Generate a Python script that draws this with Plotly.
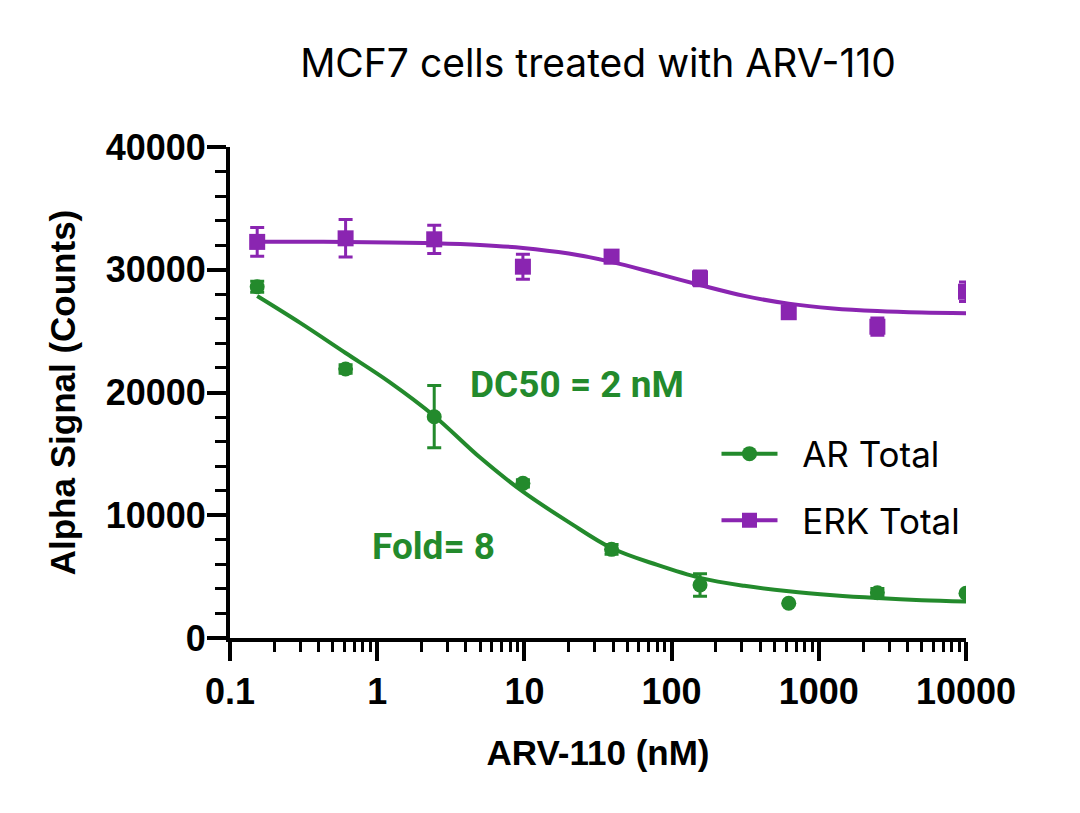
import plotly.graph_objects as go

# measured concentrations (nM), 4-fold dilution series
conc = [0.153, 0.61, 2.44, 9.77, 39.1, 156, 625, 2500, 10000]

ar_mean = [28620, 21920, 18030, 12600, 7220, 4320, 2830, 3690, 3640]
ar_err = [450, 350, 2540, 300, 400, 920, 0, 350, 0]

erk_mean = [32270, 32560, 32480, 30250, 31070, 29300, 26540, 25360, 28210]
erk_err = [1180, 1530, 1150, 1020, 500, 600, 450, 700, 800]

# fitted curves
fit_conc = [0.153, 0.3, 0.61, 1.2, 2.44, 5, 9.77, 20, 39, 80, 156, 312, 625, 1250, 2500, 5000, 10000]
ar_fit = [27860, 25670, 23220, 20890, 18090, 14700, 11920, 9440, 7330, 5950, 4900, 4250, 3800, 3480, 3250, 3080, 2980]
erk_fit = [32290, 32280, 32260, 32230, 32160, 32020, 31780, 31320, 30640, 29680, 28760, 27870, 27240, 26850, 26630, 26510, 26460]

x_ticks = [0.1, 1, 10, 100, 1000, 10000]
x_ticktext = ["0.1", "1", "10", "100", "1000", "10000"]

GREEN = "#238a2c"
PURPLE = "#8a25b1"

fig = go.Figure()

fig.add_trace(go.Scatter(x=fit_conc, y=ar_fit, mode="lines", line=dict(color=GREEN, width=4, shape="spline"),
                         showlegend=False, hoverinfo="skip"))
fig.add_trace(go.Scatter(x=fit_conc, y=erk_fit, mode="lines", line=dict(color=PURPLE, width=4, shape="spline"),
                         showlegend=False, hoverinfo="skip"))

fig.add_trace(go.Scatter(x=conc, y=ar_mean, mode="markers", name="AR Total",
                         marker=dict(color=GREEN, size=15, symbol="circle"),
                         error_y=dict(type="data", array=ar_err, color=GREEN, thickness=3, width=7),
                         showlegend=False))
fig.add_trace(go.Scatter(x=conc, y=erk_mean, mode="markers", name="ERK Total",
                         marker=dict(color=PURPLE, size=16, symbol="square"),
                         error_y=dict(type="data", array=erk_err, color=PURPLE, thickness=3, width=7),
                         showlegend=False))

# legend entries (line + symbol)
fig.add_trace(go.Scatter(x=[None], y=[None], mode="lines+markers", name="\u00a0\u00a0AR Total", legendgroup="ar",
                         line=dict(color=GREEN, width=4), marker=dict(color=GREEN, size=15, symbol="circle")))
fig.add_trace(go.Scatter(x=[None], y=[None], mode="lines+markers", name="\u00a0\u00a0ERK Total", legendgroup="erk",
                         line=dict(color=PURPLE, width=4), marker=dict(color=PURPLE, size=15, symbol="square")))

tick_font = dict(family="Liberation Sans", size=36, color="black", weight="bold")
title_font = dict(family="Liberation Sans", size=35, color="black", weight="bold")

fig.update_xaxes(type="log", range=[-1, 4], tickvals=x_ticks, ticktext=x_ticktext,
                 showline=True, linecolor="black", linewidth=4, showgrid=False, zeroline=False,
                 ticks="outside", ticklen=19, tickwidth=4, tickcolor="black",
                 minor=dict(ticks="outside", ticklen=10, tickwidth=3, tickcolor="black", dtick="D1", showgrid=False),
                 tickfont=tick_font, ticklabelstandoff=0,
                 title=dict(text="ARV-110 (nM)", font=title_font, standoff=30))
fig.update_yaxes(range=[0, 40000], dtick=10000, showline=True, linecolor="black", linewidth=4,
                 showgrid=False, zeroline=False, ticks="outside", ticklen=19, tickwidth=4, tickcolor="black",
                 minor=dict(ticks="outside", ticklen=11, tickwidth=3, tickcolor="black", dtick=2000, showgrid=False),
                 tickfont=tick_font, tickformat="d", ticklabelstandoff=-6,
                 title=dict(text="Alpha Signal (Counts)", font=title_font, standoff=20))

fig.add_annotation(text="DC50 = 2 nM", xref="paper", yref="paper", x=0.4715, y=0.517,
                   xanchor="center", yanchor="middle", showarrow=False,
                   font=dict(family="Roboto", size=37, color=GREEN, weight="bold"))
fig.add_annotation(text="Fold= 8", xref="paper", yref="paper", x=0.276, y=0.187,
                   xanchor="center", yanchor="middle", showarrow=False,
                   font=dict(family="Roboto", size=37, color=GREEN, weight="bold"))

fig.update_layout(
    width=1080, height=813,
    margin=dict(l=222, r=122, t=139, b=183),
    paper_bgcolor="white", plot_bgcolor="white",
    title=dict(text="MCF7 cells treated with ARV-110", x=0.5, xanchor="center", xref="paper",
               y=1 - 55 / 813, yref="container", yanchor="middle",
               font=dict(family="Inter", size=39, color="black")),
    legend=dict(x=0.661, y=0.435, xanchor="left", yanchor="top", font=dict(family="Inter", size=35, color="black"),
                bgcolor="rgba(0,0,0,0)", tracegroupgap=18, itemwidth=56),
    showlegend=True,
)

fig.write_html("out.html")
